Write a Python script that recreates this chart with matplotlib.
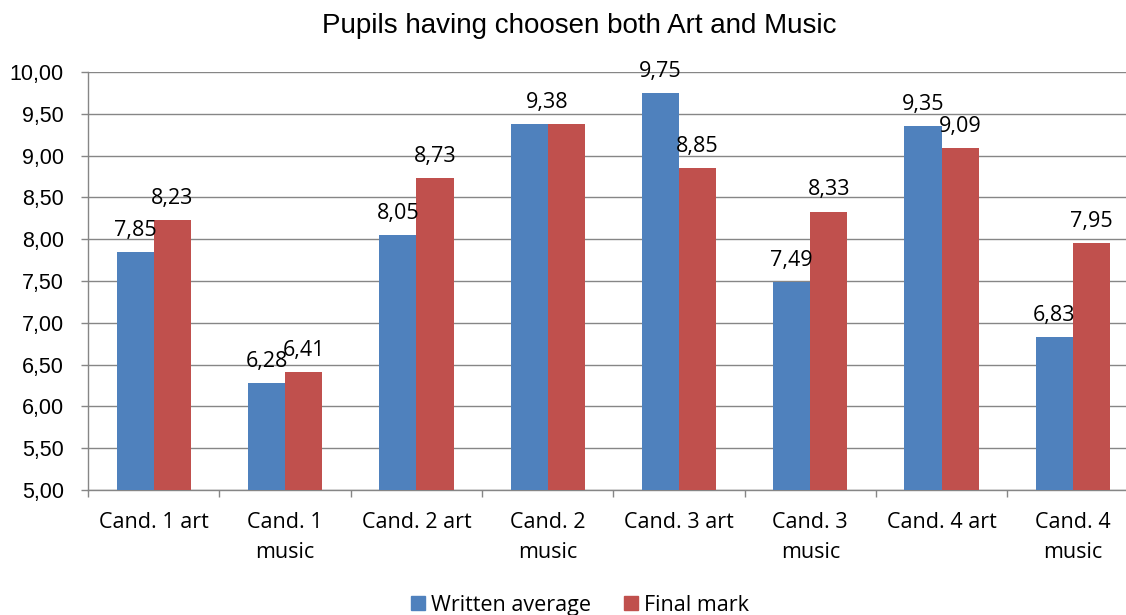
import matplotlib.pyplot as plt
from matplotlib.patches import Patch
from matplotlib.ticker import FixedLocator, FuncFormatter

categories = ["Cand. 1 art", "Cand. 1\nmusic", "Cand. 2 art", "Cand. 2\nmusic",
              "Cand. 3 art", "Cand. 3\nmusic", "Cand. 4 art", "Cand. 4\nmusic"]
written_average = [7.85, 6.28, 8.05, 9.38, 9.75, 7.49, 9.35, 6.83]
final_mark = [8.23, 6.41, 8.73, 9.38, 8.85, 8.33, 9.09, 7.95]

BLUE = "#4F81BD"
RED = "#C0504D"
GRID = "#868686"
CAL = "Open Sans"
ARIAL = "Liberation Sans"

fig = plt.figure(figsize=(11.26, 6.15), dpi=100)
ax = fig.add_axes([0.0782, 0.2033, 0.933, 0.6797])

x = list(range(len(categories)))
w = 0.283
ax.bar([i - w / 2 for i in x], [v - 5 for v in written_average], width=w,
       bottom=5, color=BLUE, zorder=3)
ax.bar([i + w / 2 for i in x], [v - 5 for v in final_mark], width=w,
       bottom=5, color=RED, zorder=3)

def comma(v):
    return f"{v:.2f}".replace(".", ",")

def label(xpos, val):
    ax.annotate(comma(val), (xpos, val), xytext=(0, 8),
                textcoords="offset points", ha="center", va="bottom",
                fontsize=15.5, family=CAL, zorder=4)

for i in x:
    if written_average[i] == final_mark[i]:
        # same value on both bars: one label in the middle
        label(i, written_average[i])
    else:
        label(i - w / 2, written_average[i])
        label(i + w / 2, final_mark[i])

ax.set_xlim(-0.5, 7.5)
ax.set_ylim(5, 10)
ax.set_yticks([5 + 0.5 * k for k in range(11)])
ax.yaxis.set_major_formatter(FuncFormatter(lambda v, p: comma(v)))
for lab in ax.get_yticklabels():
    lab.set_family(ARIAL)
ax.tick_params(axis="y", labelsize=15.5, length=5, width=1, color=GRID,
               pad=12.5, direction="out")
ax.grid(axis="y", color=GRID, linewidth=1.0, zorder=0)

ax.xaxis.set_major_locator(FixedLocator([k - 0.5 for k in range(9)]))
ax.xaxis.set_major_formatter(FuncFormatter(lambda v, p: ""))
ax.xaxis.set_minor_locator(FixedLocator(x))
ax.set_xticklabels(categories, minor=True, fontsize=15.5, family=CAL,
                   linespacing=1.55)
ax.tick_params(axis="x", which="major", length=5, width=1, color=GRID,
               direction="out")
ax.tick_params(axis="x", which="minor", length=0, pad=16)

for s in ["top", "right"]:
    ax.spines[s].set_visible(False)
for s in ["left", "bottom"]:
    ax.spines[s].set_color(GRID)
    ax.spines[s].set_linewidth(1.0)

fig.text(0.514, 1 - 33 / 615, "Pupils having choosen both Art and Music",
         ha="center", va="baseline", fontsize=20, family=ARIAL)

handles = [Patch(color=BLUE), Patch(color=RED)]
fig.legend(handles, ["Written average", "Final mark"], loc="center",
           bbox_to_anchor=(0.515, 0.016), ncol=2, frameon=False,
           prop={"family": CAL, "size": 15.5}, handlelength=0.65,
           handleheight=0.65, handletextpad=0.3, columnspacing=1.5,
           borderpad=0)

fig.savefig("out.png", dpi=100)
